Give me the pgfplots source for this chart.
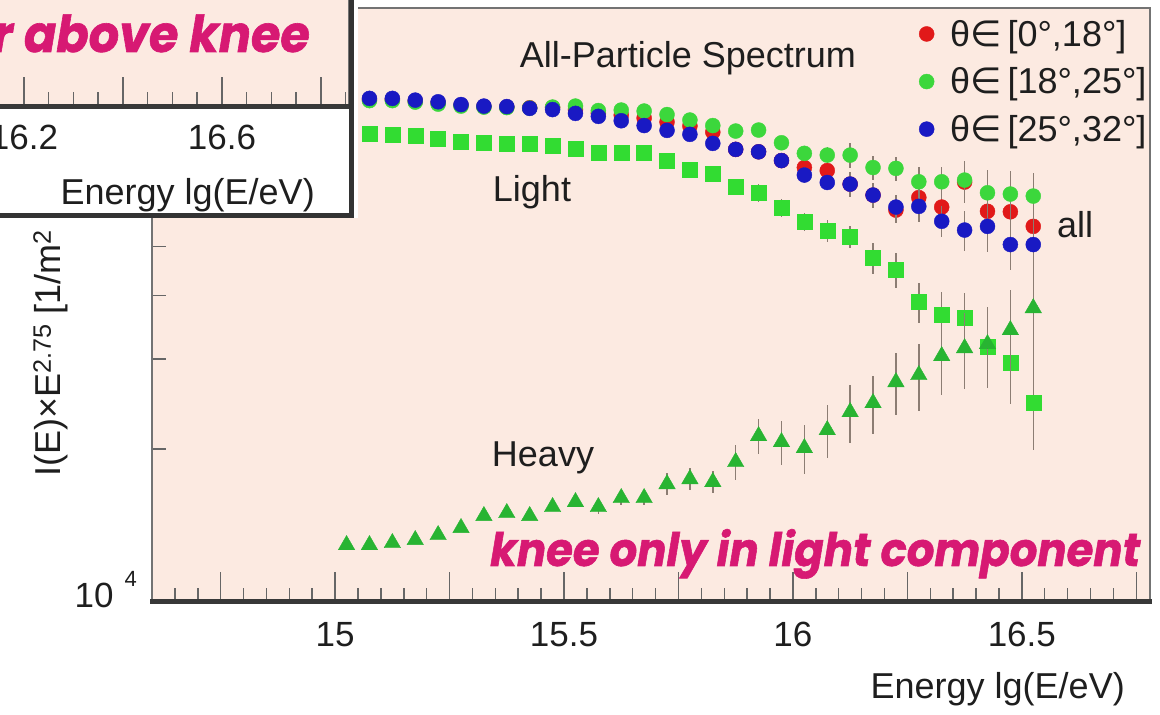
\documentclass[border=0pt]{standalone}
\usepackage{fontspec}
\usepackage{graphicx}
\usepackage{pgfplots}
\usepackage{pgfplotstable}
\pgfplotsset{compat=1.18}
\setmainfont{Liberation Sans}
\newfontfamily\djv{DejaVu Sans}
\newfontfamily\magfont{Poppins}[BoldItalicFeatures={FakeBold=1.2}]
\definecolor{bgpink}{RGB}{252,234,225}
\definecolor{mag}{RGB}{215,25,115}
\definecolor{cred}{RGB}{225,25,25}
\definecolor{cgreen}{RGB}{60,215,60}
\definecolor{cblue}{RGB}{25,25,195}
\definecolor{csq}{RGB}{50,220,50}
\definecolor{ctri}{RGB}{40,180,50}
\definecolor{errc}{RGB}{140,125,115}
\definecolor{txt}{RGB}{30,30,30}
\newcommand\rt{\fontsize{36}{40}\selectfont}
\newcommand\magtext{\magfont\bfseries\itshape\fontsize{48}{48}\selectfont}
\newlength\kneeW \newlength\kneeH
\newcommand\tenfour{10\hspace{11pt}\raisebox{21pt}{\fontsize{22}{22}\selectfont 4}}

\pgfplotstableread{
x y e
15.025 97320 0.015
15.075 97140 0.015
15.125 97140 0.015
15.175 96450 0.015
15.225 95630 0.015
15.275 94640 0.015
15.325 94080 0.015
15.375 93870 0.015
15.425 93580 0.015
15.475 93660 0.015
15.525 92820 0.015
15.575 91360 0.015
15.625 90540 0.015
15.675 89320 0.015
15.725 87730 0.015
15.775 86150 0.015
15.825 83840 0.015
15.875 77520 0.015
15.925 76690 0.025
15.975 73700 0.025
16.025 71410 0.035
16.075 70440 0.035
16.125 66250 0.055
16.175 63040 0.055
16.225 58900 0.055
16.275 62330 0.07
16.325 59710 0.07
16.375 66860 0.09
16.425 58580 0.11
16.475 58440 0.11
16.525 54720 0.11
}\tabred

\pgfplotstableread{
x y e
15.025 96880 0.015
15.075 96660 0.015
15.125 96660 0.015
15.175 96010 0.015
15.225 95150 0.015
15.275 94290 0.015
15.325 93870 0.015
15.375 93660 0.015
15.425 93450 0.015
15.475 93870 0.015
15.525 94290 0.015
15.575 92400 0.015
15.625 92610 0.015
15.675 92190 0.015
15.725 90740 0.015
15.775 88520 0.015
15.825 86340 0.015
15.875 84220 0.015
15.925 84600 0.025
15.975 79880 0.025
16.025 76140 0.035
16.075 75550 0.035
16.125 75550 0.055
16.175 71410 0.055
16.225 71140 0.055
16.275 66950 0.07
16.325 66950 0.07
16.375 67470 0.09
16.425 63700 0.11
16.475 63330 0.11
16.525 62760 0.11
}\tabgreen

\pgfplotstableread{
x y e
15.025 97770 0.015
15.075 97640 0.015
15.125 97640 0.015
15.175 96880 0.015
15.225 96140 0.015
15.275 94940 0.015
15.325 94290 0.015
15.375 94080 0.015
15.425 93330 0.015
15.475 92820 0.015
15.525 91230 0.015
15.575 90010 0.015
15.625 88240 0.015
15.675 86340 0.015
15.725 84480 0.015
15.775 82970 0.015
15.825 79660 0.015
15.875 77520 0.015
15.925 76690 0.025
15.975 73700 0.025
16.025 69020 0.035
16.075 66740 0.035
16.125 66250 0.055
16.175 63040 0.055
16.225 59710 0.055
16.275 59900 0.07
16.325 55990 0.07
16.375 53810 0.09
16.425 54720 0.11
16.475 50390 0.11
16.525 50390 0.11
}\tabblue

\pgfplotstableread{
x y e
15.025 83460 0.015
15.075 83270 0.015
15.125 82900 0.015
15.175 82520 0.015
15.225 81420 0.015
15.275 80320 0.015
15.325 79950 0.015
15.375 79590 0.015
15.425 79410 0.015
15.475 78700 0.015
15.525 77810 0.015
15.575 76340 0.015
15.625 76340 0.015
15.675 76240 0.015
15.725 73530 0.015
15.775 70760 0.015
15.825 69490 0.015
15.875 65360 0.015
15.925 63610 0.04
15.975 59580 0.04
16.025 55790 0.04
16.075 53570 0.05
16.125 52140 0.05
16.175 47420 0.07
16.225 44900 0.08
16.275 38850 0.09
16.325 36630 0.11
16.375 36220 0.12
16.425 31700 0.15
16.475 29490 0.17
16.525 24600 0.19
}\tablight

\pgfplotstableread{
x y e
15.025 12940 0.02
15.075 12940 0.02
15.125 13060 0.02
15.175 13240 0.02
15.225 13540 0.02
15.275 13980 0.02
15.325 14760 0.02
15.375 14960 0.02
15.425 14760 0.02
15.475 15370 0.02
15.525 15720 0.02
15.575 15370 0.03
15.625 16010 0.03
15.675 16010 0.03
15.725 17050 0.05
15.775 17440 0.05
15.825 17210 0.05
15.875 18840 0.08
15.925 21190 0.08
15.975 20620 0.10
16.025 20070 0.11
16.075 21770 0.12
16.125 23620 0.13
16.175 24600 0.13
16.225 27050 0.14
16.275 27930 0.15
16.325 30430 0.16
16.375 31550 0.17
16.425 32130 0.18
16.475 34230 0.20
16.525 37810 0.23
}\tabheavy

\begin{document}
\settowidth\kneeW{\magtext knee only in light component}%
\settoheight\kneeH{\magtext knee only in light component}%
\pgfmathsetmacro\sx{650/\kneeW}%
\pgfmathsetmacro\sy{37/\kneeH}%
\pgfmathsetmacro\sxi{1.1*\sx}%
\pgfmathsetmacro\syi{1.1*\sy}%
\begin{tikzpicture}
\path[use as bounding box] (0,0) rectangle (1160pt,715pt);
\clip (0,0) rectangle (1160pt,715pt);
\fill[white] (0,0) rectangle (1160pt,715pt);

\begin{axis}[name=main, at={(152pt,113pt)}, anchor=south west,
  scale only axis, width=998pt, height=594pt,
  xmin=14.6, xmax=16.78, ymode=log, ymin=1e4, ymax=1.47e5,
  axis background/.style={fill=bgpink},
  axis line style={draw=black!55, line width=2.5pt},
  tick align=inside, xtick pos=left, ytick pos=left,
  major tick length=30pt, minor tick length=14pt,
  every tick/.style={line width=1.5pt, draw=black!60},
  every minor tick/.style={line width=1.5pt, draw=black!60},
  xtick={14.75,15,15.25,15.5,15.75,16,16.25,16.5,16.75},
  xticklabels={,15,,15.5,,16,,16.5,},
  minor xtick={14.6,14.65,...,16.76},
  ytick={1e4,1e5}, yticklabels={\tenfour,},
  minor ytick={2e4,3e4,4e4,5e4,6e4,7e4,8e4,9e4},
  /pgf/number format/assume math mode=true,
  ticklabel style={font=\fontsize{35}{35}\selectfont, text=txt, inner sep=0pt},
  xticklabel style={anchor=base, yshift=-45pt},
  yticklabel style={anchor=base east, xshift=-15pt, yshift=-6pt},
  legend style={at={(0.7655,1.0)}, anchor=north west, draw=none, fill=none,
    font=\rt, text=txt, nodes={inner ysep=10pt}, column sep=14pt, legend cell align=left},
  clip mode=individual,
]
\addplot[only marks, mark=*, mark size=7.5pt, color=cred,
  error bars/.cd, y dir=both, y explicit relative,
  error bar style={line width=1.5pt, color=errc}, error mark=none]
  table[x=x, y=y, y error=e]{\tabred};
\addlegendentry{θ{\djv ∈}\,[0°,18°]}
\addplot[only marks, mark=*, mark size=7.5pt, color=cgreen,
  error bars/.cd, y dir=both, y explicit relative,
  error bar style={line width=1.5pt, color=errc}, error mark=none]
  table[x=x, y=y, y error=e]{\tabgreen};
\addlegendentry{θ{\djv ∈}\,[18°,25°]}
\addplot[only marks, mark=*, mark size=7.5pt, color=cblue,
  error bars/.cd, y dir=both, y explicit relative,
  error bar style={line width=1.5pt, color=errc}, error mark=none]
  table[x=x, y=y, y error=e]{\tabblue};
\addlegendentry{θ{\djv ∈}\,[25°,32°]}
\addplot[forget plot, only marks, mark=square*, mark size=7.5pt, color=csq,
  error bars/.cd, y dir=both, y explicit relative,
  error bar style={line width=1.5pt, color=errc}, error mark=none]
  table[x=x, y=y, y error=e]{\tablight};
\addplot[forget plot, only marks, mark=triangle*, mark size=9.5pt, color=ctri,
  error bars/.cd, y dir=both, y explicit relative,
  error bar style={line width=1.5pt, color=errc}, error mark=none]
  table[x=x, y=y, y error=e]{\tabheavy};
\end{axis}
\draw[line width=5pt, black!78] ([xshift=-2pt]main.south west) -- ([xshift=2pt]main.south east);

% texts in main plot
\node[anchor=base, inner sep=0, text=txt, font=\rt] at (688pt,647pt) {All-Particle Spectrum};
\node[anchor=base, inner sep=0, text=txt, font=\rt] at (532pt,513pt) {Light};
\node[anchor=base, inner sep=0, text=txt, font=\rt] at (543pt,248pt) {Heavy};
\node[anchor=base, inner sep=0, text=txt, font=\rt] at (1075pt,477pt) {all};
\node[anchor=base west, inner sep=0, text=mag] at (490pt,149pt) {\scalebox{\sx}[\sy]{\magtext knee only in light component}};
\node[anchor=base east, inner sep=0, text=txt, font=\rt] at (1125pt,16pt) {Energy lg(E/eV)};
\node[rotate=90, anchor=base west, inner sep=0, text=txt, font=\rt] at (60pt,238pt)
  {I(E)×E\textsuperscript{2.75} [1/m\textsuperscript{2} sec sr eV\textsuperscript{1.75}]};

% inset panel
\fill[white] (-10pt,497pt) rectangle (358pt,725pt);
\begin{axis}[name=inset, at={(-400pt,608pt)}, anchor=south west,
  scale only axis, width=749pt, height=200pt,
  xmin=15.3434, xmax=16.8566, ymin=0, ymax=1, ytick=\empty,
  axis background/.style={fill=bgpink},
  axis line style={draw=black!55, line width=2.5pt},
  tick align=inside, xtick pos=left,
  major tick length=30pt, minor tick length=15pt,
  every tick/.style={line width=1.5pt, draw=black!60},
  every minor tick/.style={line width=1.5pt, draw=black!60},
  xtick={15.6,16,16.2,16.4,16.6,16.8},
  xticklabels={,,16.2,,16.6,},
  minor xtick={15.4,15.45,...,16.86},
  /pgf/number format/assume math mode=true,
  ticklabel style={font=\fontsize{35}{35}\selectfont, text=txt, inner sep=0pt},
  xticklabel style={anchor=base, yshift=-43pt},
]
\addplot[draw=none, forget plot] coordinates {(16,0.5)};
\end{axis}
\draw[line width=5pt, black!78] (inset.south west) -- (inset.south east);
\draw[line width=5pt, black!80] (351pt,725pt) -- (351pt,499.5pt) -- (-10pt,499.5pt);
\node[anchor=base east, inner sep=0, text=txt, font=\rt] at (315pt,510pt) {Energy lg(E/eV)};
\node[anchor=base east, inner sep=0, text=mag] at (310pt,663pt) {\scalebox{\sxi}[\syi]{\magtext r above knee}};
\end{tikzpicture}
\end{document}
